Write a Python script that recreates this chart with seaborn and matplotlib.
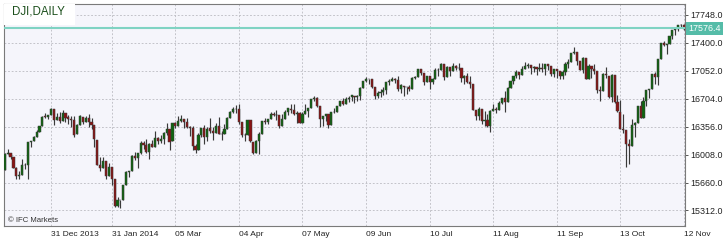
import numpy as np
import pandas as pd
import matplotlib
matplotlib.use("Agg")
import matplotlib.pyplot as plt
from matplotlib.patches import Rectangle
import seaborn as sns

# ---------------- data (DJI daily) ----------------
holidays = ["2013-12-25", "2014-01-01", "2014-01-20", "2014-02-17",
            "2014-04-18", "2014-05-26", "2014-07-04", "2014-09-01"]
dates = pd.bdate_range("2013-12-06", "2014-11-12")
dates = dates[~dates.isin(pd.to_datetime(holidays))]

opens = [
    15821,16020,16025,15973,15844,15739,15755,15884,15875,16167,16179,16221,16294,16357,16479,16478,16504,
    16572,16441,16474,16429,16528,16471,16453,16436,16258,16374,16481,16415,16467,16418,16372,16190,15880,15837,15922,15739,15848,
    15698,15372,15443,15443,15630,15794,15801,15994,15962,16027,16154,16129,16040,16134,16104,16208,16180,16198,16272,
    16321,16172,16396,16361,16422,16452,16419,16350,16340,16110,16066,16248,16337,16222,16333,16304,16276,16368,16266,16265,16324,
    16458,16533,16573,16572,16411,16246,16257,16438,16170,16028,16174,16263,16425,16408,16449,16514,16502,16500,16362,16448,16535,
    16580,16558,16512,16530,16402,16518,16550,16584,16696,16714,16614,16446,16491,16511,16374,16533,16543,16607,16676,16634,16698,
    16718,16742,16721,16738,16837,16924,16942,16945,16843,16734,16776,16782,16807,16907,16921,16946,16937,16818,16867,16846,16851,
    16828,16957,16977,17067,17023,16906,16983,16914,16944,17056,17060,17137,16976,17099,17051,17113,17087,17083,16960,16983,16913,16880,
    16561,16493,16569,16429,16443,16368,16555,16569,16560,16652,16713,16663,16839,16919,16979,17040,17002,17077,17107,17123,17080,
    17098,17068,17079,17069,17137,17111,17014,17068,17049,16988,17031,17131,17157,17266,17279,17172,17057,17210,16947,17112,17071,
    17042,16804,16802,17010,16991,16719,16993,16659,16543,16322,16314,16140,16118,16380,16400,16615,16462,16677,16805,16818,17006,16975,17196,
    17390,17367,17384,17484,17554,17574,17614,17615,
]
highs = [
    16023,16072,16025,15981,15847,15800,15958,15904,16168,16180,16240,16318,16358,16483,16529,16505,16588,
    16573,16519,16533,16563,16528,16497,16487,16490,16383,16502,16481,16490,16513,16459,16372,16190,15980,15977,15922,15908,15848,
    15708,15481,15443,15630,15798,15805,16007,16039,16028,16172,16179,16207,16154,16187,16300,16231,16253,16284,16399,
    16321,16403,16418,16490,16505,16452,16460,16361,16369,16145,16276,16342,16379,16349,16461,16355,16400,16474,16301,16385,16472,
    16555,16604,16620,16631,16411,16276,16440,16438,16170,16184,16283,16425,16460,16450,16537,16532,16567,16500,16515,16568,16581,
    16632,16632,16547,16535,16542,16643,16584,16700,16736,16718,16614,16492,16512,16518,16543,16591,16610,16676,16716,16719,16735,
    16750,16742,16755,16845,16929,16970,16950,16945,16843,16797,16822,16845,16907,16942,16978,16963,16991,16882,16867,16854,16873,
    16975,16990,17074,17067,17023,16985,16983,16959,17086,17088,17152,17137,17104,17099,17145,17124,17151,17083,16993,17024,16980,16880,
    16563,16596,16569,16545,16516,16562,16639,16602,16677,16713,16796,16854,16926,16984,17054,17040,17107,17154,17146,17123,17110,
    17098,17153,17152,17139,17137,17111,17073,17068,17049,17054,17156,17198,17275,17351,17279,17172,17224,17210,17134,17112,17136,
    17042,16857,17027,17099,16991,17008,16993,16751,16689,16507,16314,16196,16449,16410,16615,16674,16729,16805,16823,17006,17031,17196,17395,
    17425,17384,17485,17556,17575,17615,17630,17630,
]
lows = [
    15821,16020,15951,15838,15703,15703,15755,15829,15700,16104,16171,16221,16294,16357,16463,16456,16504,
    16375,16439,16405,16429,16416,16383,16351,16232,16258,16374,16394,16415,16346,16328,16100,15879,15806,15837,15703,15739,15632,
    15356,15356,15341,15443,15630,15733,15801,15942,15836,16014,16081,16023,15953,16102,16104,16133,16155,16135,16252,
    16070,16172,16339,16361,16412,16341,16337,16244,16064,16029,16066,16223,16136,16177,16280,16190,16276,16268,16195,16265,16324,
    16458,16520,16519,16387,16222,16177,16257,16160,16015,16028,16016,16263,16393,16393,16449,16491,16440,16342,16362,16448,16505,
    16524,16503,16405,16398,16402,16509,16472,16584,16680,16602,16356,16358,16429,16342,16374,16522,16543,16607,16624,16634,16660,
    16680,16649,16672,16683,16837,16910,16891,16834,16703,16714,16727,16755,16763,16872,16921,16899,16804,16770,16741,16763,16799,
    16828,16945,16977,16999,16877,16906,16825,16888,16944,16989,17060,16931,16976,16990,17051,17056,17062,16912,16888,16900,16840,16563,
    16433,16437,16385,16368,16349,16290,16555,16525,16560,16631,16537,16663,16839,16885,16965,16947,17002,17077,17090,17005,17041,
    16997,17050,17038,16992,17060,16989,16975,16960,16954,16950,16998,17083,17157,17263,17124,17055,17021,16945,16947,16958,17005,
    16777,16674,16802,16957,16710,16659,16650,16541,16321,16279,15855,15893,16118,16232,16400,16459,16462,16612,16707,16818,16889,16868,17196,
    17353,17264,17384,17449,17493,17550,17585,17560,
]
closes = [
    16020,16025,15973,15844,15739,15755,15884,15875,16167,16179,16221,16294,16357,16479,16478,16504,16577,
    16441,16469,16425,16531,16463,16445,16437,16257,16374,16482,16418,16459,16415,16374,16198,15880,15838,15929,15739,15849,15699,
    15373,15445,15441,15629,15795,15802,15994,15964,16028,16154,16130,16040,16133,16104,16208,16180,16199,16273,16322,
    16169,16396,16361,16422,16453,16419,16351,16340,16109,16066,16247,16337,16223,16332,16303,16277,16368,16268,16264,16323,16458,
    16533,16573,16572,16413,16246,16257,16438,16171,16027,16174,16263,16425,16409,16449,16514,16502,16501,16361,16448,16535,16581,
    16558,16513,16530,16401,16518,16551,16584,16696,16715,16614,16447,16492,16512,16374,16533,16543,16607,16676,16634,16699,16717,
    16743,16722,16738,16837,16924,16943,16946,16844,16734,16776,16782,16808,16907,16921,16947,16937,16818,16868,16846,16851,16827,
    16957,16976,17068,17024,16906,16985,16915,16944,17055,17060,17138,16977,17100,17052,17114,17087,17083,16961,16983,16913,16881,16563,
    16493,16569,16430,16443,16369,16554,16569,16560,16652,16713,16663,16839,16919,16979,17040,17001,17077,17107,17123,17080,17098,
    17067,17079,17069,17138,17111,17014,17068,17049,16988,17031,17132,17157,17266,17280,17173,17056,17211,16946,17113,17071,17043,
    16805,16802,17010,16992,16720,16995,16660,16544,16321,16316,16142,16117,16380,16400,16615,16462,16677,16805,16818,17006,16975,17196,17391,
    17367,17384,17484,17554,17574,17614,17615,17576,
]
last_price = 17576.4
y_ticks = [15312.0, 15660.0, 16008.0, 16356.0, 16704.0, 17052.0, 17400.0, 17748.0]
x_tick_dates = ["2013-12-31", "2014-01-31", "2014-03-05", "2014-04-04", "2014-05-07", "2014-06-09",
                "2014-07-10", "2014-08-11", "2014-09-11", "2014-10-13", "2014-11-12"]
x_tick_labels = ["31 Dec 2013", "31 Jan 2014", "05 Mar", "04 Apr", "07 May", "09 Jun",
                 "10 Jul", "11 Aug", "11 Sep", "13 Oct", "12 Nov"]

n = len(dates)
assert len(opens) == len(highs) == len(lows) == len(closes) == n, (n, len(opens), len(highs), len(lows), len(closes))

df = pd.DataFrame({"date": dates, "open": opens, "high": highs, "low": lows, "close": closes})
df["i"] = np.arange(n)
df["up"] = df["close"] >= df["open"]

# ---------------- style ----------------
sns.set_style("white")
plt.rcParams["font.family"] = ["Liberation Sans", "DejaVu Sans"]

W, H = 725, 241
fig = plt.figure(figsize=(W / 100, H / 100), dpi=100)
fig.patch.set_facecolor("white")
ax_l, ax_r, ax_t, ax_b = 4, 685, 4, 226
ax = fig.add_axes([ax_l / W, 1 - ax_b / H, (ax_r - ax_l) / W, (ax_b - ax_t) / H])
ax.set_facecolor("#f5f5fb")

# wicks
hi = np.maximum(df["high"], np.maximum(df["open"], df["close"]))
lo = np.minimum(df["low"], np.minimum(df["open"], df["close"]))
ax.vlines(df["i"], lo, hi, color="#3a3a3a", lw=0.85, zorder=3)

# bodies
body_bot = np.minimum(df["open"], df["close"])
body_h = np.maximum(np.abs(df["close"] - df["open"]), 4)
colors = np.where(df["up"], "#0f650f", "#8a1414")
ax.bar(df["i"], body_h, bottom=body_bot, width=0.75, color=colors,
       edgecolor="#3a3a3a", linewidth=0.35, zorder=4)

# last price line
ax.axhline(last_price, color="#7fd3c3", lw=1.5, zorder=5)

# axes limits, mapping bar index -> pixel x = 4.8 + 2.89 * i
px_per_bar = 2.89
x0 = 4.8
ax.set_xlim((ax_l - x0) / px_per_bar, (ax_r - x0) / px_per_bar)
ax.set_ylim(15119, 17881)

# ticks
date_index = {d.strftime("%Y-%m-%d"): k for k, d in enumerate(dates)}
xt = [date_index[d] for d in x_tick_dates]
ax.set_xticks(xt)
ax.set_xticklabels(x_tick_labels)
for lab in ax.get_xticklabels():
    lab.set_ha("left")
ax.yaxis.tick_right()
ax.set_yticks(y_ticks)
ax.set_yticklabels([f"{v:.1f}" for v in y_ticks])
ax.tick_params(axis="x", direction="out", length=3, width=0.7, color="#555555",
               labelsize=6.0, labelcolor="#222222", pad=0.5)
ax.tick_params(axis="y", direction="out", length=2.5, width=0.7, color="#555555",
               labelsize=6.4, labelcolor="#222222", pad=1.5, right=True, left=False)

ax.grid(True, linestyle=(0, (2, 2)), color="#bfbfc6", lw=0.65)
ax.set_axisbelow(True)
for s in ax.spines.values():
    s.set_color("#7a7a7a")
    s.set_linewidth(0.8)
    s.set_visible(True)

# title box
ax.add_patch(Rectangle((0, 1 - 21 / (ax_b - ax_t)), 71 / (ax_r - ax_l), 21 / (ax_b - ax_t),
                       transform=ax.transAxes, facecolor="white", edgecolor="none", zorder=6))
fig.text(12 / W, 1 - 11.5 / H, "DJI,DAILY", fontsize=8.3, color="#1c4f1c",
         ha="left", va="center", zorder=7)
fig.text(8 / W, 1 - 220 / H, "© IFC Markets", fontsize=5.6, color="#333333",
         ha="left", va="center", zorder=7)

# last price label
ax.text(1.005, last_price, f"{last_price:.1f}", transform=ax.get_yaxis_transform(),
        ha="left", va="center", fontsize=6.4, color="white", clip_on=False, zorder=8,
        bbox=dict(boxstyle="square,pad=0.25", facecolor="#55bca8", edgecolor="none"))

fig.savefig("out.png", dpi=100, facecolor="white")
